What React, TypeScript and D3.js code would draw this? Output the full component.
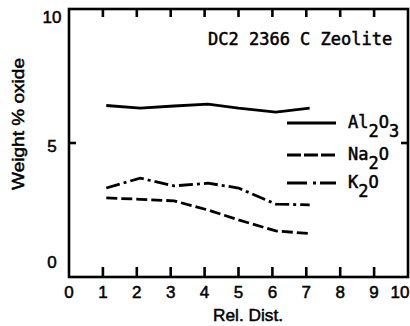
import React from "react";
import * as d3 from "d3";

const relDist = [1.1, 2.1, 3.1, 4.1, 5.0, 6.1, 7.1];
const al2o3 = [6.4, 6.3, 6.38, 6.45, 6.3, 6.15, 6.3];
const na2o = [2.95, 2.9, 2.84, 2.5, 2.13, 1.72, 1.62];
const k2o = [3.32, 3.69, 3.4, 3.5, 3.32, 2.72, 2.69];
const xTicks = [0, 1, 2, 3, 4, 5, 6, 7, 8, 9, 10];
const yTickLabels = [0, 5, 10];
const seriesNames = ["Al", "Na", "K"];
const title = "DC2 2366 C Zeolite";

const W = 410, H = 326;
const X0 = 69, X1 = 408, Y0 = 277, Y1 = 9;
const yLabelShift: Record<number, number> = { 0: -9.5, 5: 8.5, 10: 14 };
const mono = "'DejaVu Sans Mono', monospace";
const sans = "'Liberation Sans', Arial, sans-serif";

export default function App() {
  const x = d3.scaleLinear().domain([0, 10]).range([X0, X1]);
  const y = d3.scaleLinear().domain([0, 10]).range([Y0, Y1]);
  const line = d3.line<number>().x((_, i) => x(relDist[i])).y((d) => y(d)).curve(d3.curveLinear);

  const series = [
    { data: al2o3, dash: undefined as string | undefined },
    { data: na2o, dash: "11 4" },
    { data: k2o, dash: "14 4 3 4" },
  ];
  const legendY = [123, 155, 183];
  const legendDash = [undefined, "14 3", "20 6 3 4"];
  const thick = { stroke: "#000", strokeWidth: 0.5 };

  return (
    <svg width={W} height={H} style={{ position: "absolute", left: 0, top: 0, background: "#fff" }}>
      <rect x={X0} y={Y1} width={X1 - X0} height={Y0 - Y1} fill="none" stroke="#000" strokeWidth={2.6} />
      {xTicks.slice(1, 10).map((t) => (
        <g key={t}>
          <line x1={x(t)} x2={x(t)} y1={Y0} y2={Y0 - 10} stroke="#000" strokeWidth={2.6} />
          <line x1={x(t)} x2={x(t)} y1={Y1} y2={Y1 + 8} stroke="#000" strokeWidth={2.6} />
        </g>
      ))}
      <line x1={X0} x2={X0 + 7} y1={y(5)} y2={y(5)} stroke="#000" strokeWidth={2.6} />
      <line x1={X1} x2={X1 - 7} y1={y(5)} y2={y(5)} stroke="#000" strokeWidth={2.6} />
      {xTicks.map((t) => (
        <text key={t} x={t === 10 ? 409.5 : x(t)} y={298} textAnchor={t === 10 ? "end" : "middle"}
          fontFamily={sans} fontSize={17} fill="#000" {...thick}>
          {t}
        </text>
      ))}
      {yTickLabels.map((t) => (
        <text key={t} x={52} y={y(t) + yLabelShift[t]} textAnchor="middle" fontFamily={sans} fontSize={17} fill="#000" {...thick}>
          {t}
        </text>
      ))}
      <text x={248} y={321} textAnchor="middle" fontFamily={sans} fontSize={17} fill="#000" textLength={70} lengthAdjust="spacingAndGlyphs" {...thick}>
        Rel. Dist.
      </text>
      <text transform="translate(24,124) rotate(-90)" textAnchor="middle" fontFamily={sans} fontSize={17} fill="#000"
        textLength={132} lengthAdjust="spacingAndGlyphs" {...thick}>
        Weight % oxide
      </text>
      <text x={208} y={45} fontFamily={mono} fontSize={17} fill="#000" {...thick}>
        {title}
      </text>
      {series.map((s, i) => (
        <path key={i} d={line(s.data) || ""} fill="none" stroke="#000" strokeWidth={2.8} strokeDasharray={s.dash} />
      ))}
      {seriesNames.map((n, i) => (
        <g key={n}>
          <line x1={287} x2={336} y1={legendY[i]} y2={legendY[i]} stroke="#000" strokeWidth={2.8} strokeDasharray={legendDash[i]} />
          <text x={348} y={legendY[i] + 5} fontFamily={mono} fontSize={17} fill="#000" {...thick}>
            {n}
            <tspan dy={9}>2</tspan>
            <tspan dy={-9}>O</tspan>
            {i === 0 ? <tspan dy={9}>3</tspan> : null}
          </text>
        </g>
      ))}
    </svg>
  );
}
